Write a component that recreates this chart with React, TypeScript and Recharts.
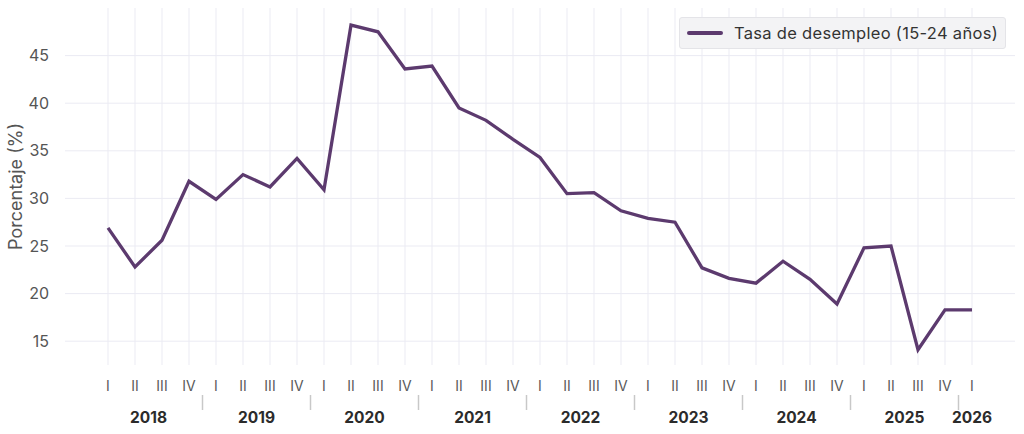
import { LineChart, Line, XAxis, YAxis, CartesianGrid, Legend } from 'recharts'

// Quarterly youth unemployment rate, 2018 Q1 - 2026 Q1
const years = ['2018', '2019', '2020', '2021', '2022', '2023', '2024', '2025', '2026']
const quarters = ['I', 'II', 'III', 'IV']
const rates = [
  26.9, 22.8, 25.6, 31.8,
  29.9, 32.5, 31.2, 34.2,
  30.9, 48.2, 47.5, 43.6,
  43.9, 39.5, 38.2, 36.2,
  34.3, 30.5, 30.6, 28.7,
  27.9, 27.5, 22.7, 21.6,
  21.1, 23.4, 21.5, 18.9,
  24.8, 25.0, 14.1, 18.3,
  18.3,
]
const yTicks = [15, 20, 25, 30, 35, 40, 45]

const data = rates.map((rate, i) => ({
  idx: i,
  year: years[Math.floor(i / 4)],
  quarter: quarters[i % 4],
  rate,
}))

const quarterTicks = data.map((d) => d.idx)
// year labels sit in the middle of their quarters, separators between IV and I
const yearMids = years.map((_, y) => {
  const first = y * 4
  const last = Math.min(first + 3, data.length - 1)
  return (first + last) / 2
})
const yearBreaks = years.slice(1).map((_, y) => (y + 1) * 4 - 0.5)
const yearTicks = [...yearMids, ...yearBreaks].sort((a, b) => a - b)

const FONT = 'Inter, "Open Sans", sans-serif'
const LINE = '#5c3a6e'

function QuarterTick(props: any) {
  const { x, y, payload } = props
  return (
    <text x={x} y={y + 18} textAnchor="middle" fill="#5a5a5a" fontSize={14} fontFamily={FONT}>
      {quarters[payload.value % 4]}
    </text>
  )
}

function YearTick(props: any) {
  const { x, y, payload } = props
  const v = payload.value
  const mid = yearMids.indexOf(v)
  if (mid >= 0) {
    return (
      <text x={x} y={y + 22} textAnchor="middle" fill="#2b2b2b" fontSize={15.5} fontWeight={700} fontFamily={FONT}>
        {years[mid]}
      </text>
    )
  }
  return <line x1={x} x2={x} y1={y - 6} y2={y + 9} stroke="#c8c8c8" strokeWidth={1.5} />
}

function LegendBox() {
  return (
    <div
      style={{
        display: 'flex',
        alignItems: 'center',
        gap: 11,
        background: '#f3f3f5',
        border: '1px solid #e4e4e8',
        borderRadius: 3,
        padding: '5px 7px',
        fontFamily: FONT,
        fontSize: 16.5,
        letterSpacing: 0.3,
        color: '#333',
        whiteSpace: 'nowrap',
      }}
    >
      <div style={{ width: 36, height: 3.5, background: LINE, borderRadius: 2 }} />
      <span>Tasa de desempleo (15-24 años)</span>
    </div>
  )
}

export default function App() {
  return (
    <div style={{ position: 'absolute', left: 0, top: 0, width: 1024, height: 434, background: '#fff' }}>
      <LineChart width={1024} height={434} data={data} margin={{ top: 8, right: 9, bottom: 0, left: 0 }}>
        <CartesianGrid xAxisId="q" stroke="#ebebf3" strokeWidth={1} syncWithTicks />
        <XAxis
          xAxisId="q"
          dataKey="idx"
          type="number"
          domain={[0, data.length - 1]}
          ticks={quarterTicks}
          interval={0}
          padding={{ left: 43, right: 43 }}
          axisLine={false}
          tickLine={false}
          height={28}
          tick={<QuarterTick />}
        />
        <XAxis
          xAxisId="y"
          dataKey="idx"
          type="number"
          domain={[0, data.length - 1]}
          ticks={yearTicks}
          interval={0}
          padding={{ left: 43, right: 43 }}
          axisLine={false}
          tickLine={false}
          height={41}
          tick={<YearTick />}
        />
        <YAxis
          domain={[12.5, 50]}
          ticks={yTicks}
          allowDataOverflow
          width={65}
          axisLine={false}
          tickLine={false}
          tick={{ fill: '#555', fontSize: 16, fontFamily: FONT }}
          tickMargin={10}
          label={{
            value: 'Porcentaje (%)',
            angle: -90,
            position: 'insideLeft',
            offset: 16,
            style: { textAnchor: 'middle', fill: '#555', fontSize: 18, fontFamily: FONT },
          }}
        />
        <Legend
          layout="horizontal"
          verticalAlign="middle"
          align="center"
          wrapperStyle={{ left: 679, top: 17, right: 'auto', bottom: 'auto', width: 'auto', height: 'auto' }}
          content={() => <LegendBox />}
        />
        <Line
          xAxisId="q"
          type="linear"
          dataKey="rate"
          name="Tasa de desempleo (15-24 años)"
          stroke={LINE}
          strokeWidth={3.3}
          dot={false}
          activeDot={false}
          isAnimationActive={false}
        />
      </LineChart>
    </div>
  )
}
